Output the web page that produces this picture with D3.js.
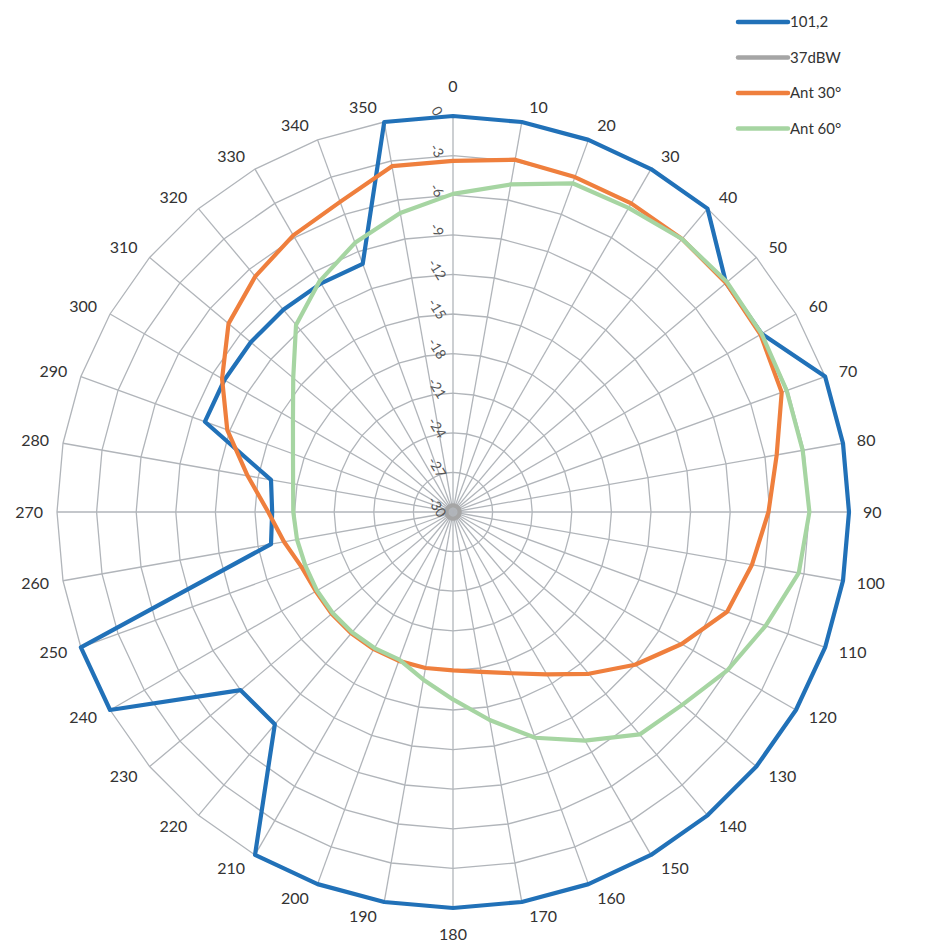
<!DOCTYPE html>
<html>
<head>
<meta charset="utf-8">
<script src="https://cdn.jsdelivr.net/npm/d3@7"></script>
<style>
    body { margin: 0; background: #fff; }
    .grid { fill: none; stroke: #b1b5ba; stroke-width: 1.3px; }
    .series { fill: none; stroke-width: 4.2px; stroke-linejoin: round; }
    .cat { font-family: Lato, "Open Sans", sans-serif; font-size: 16px; fill: #333; }
    .val { font-family: Lato, "Open Sans", sans-serif; font-size: 14px; fill: #555; }
    .legend text { font-family: Lato, "Open Sans", sans-serif; font-size: 15px; fill: #333; }
</style>
</head>
<body>
<div id="chart"></div>
<script>

    // azimuth categories (degrees)
    var azimuths = [0, 10, 20, 30, 40, 50, 60, 70, 80, 90, 100, 110, 120, 130, 140, 150, 160, 170,
                    180, 190, 200, 210, 220, 230, 240, 250, 260, 270, 280, 290, 300, 310, 320, 330, 340, 350];

    // radial axis ticks (dB)
    var ticks = [0, -3, -6, -9, -12, -15, -18, -21, -24, -27, -30];

    var names = ['101,2', '37dBW', 'Ant 30°', 'Ant 60°'];
    var colors = ['#2171b8', '#a5a5a5', '#ef7f3d', '#a6d5a2'];

    var s101 = [0, 0, 0, 0, 0, -3, -3, 0, 0, 0, 0, 0, 0, 0, 0, 0, 0, 0,
                0, 0, 0, 0, -9, -9, 0, 0, -16, -16.3, -16, -10, -10, -10, -10, -10, -10, 0];

    var s37 = [-29.5, -29.5, -29.5, -29.5, -29.5, -29.5, -29.5, -29.5, -29.5, -29.5, -29.5, -29.5,
               -29.5, -29.5, -29.5, -29.5, -29.5, -29.5, -29.5, -29.5, -29.5, -29.5, -29.5, -29.5,
               -29.5, -29.5, -29.5, -29.5, -29.5, -29.5, -29.5, -29.5, -29.5, -29.5, -29.5, -29.5];

    var ant30 = [-3.4, -2.9, -3, -3, -3, -3, -3.1, -3.5, -5.1, -6.1, -7, -7.9, -10, -12, -14, -15.8, -17, -17.7,
                 -18, -18, -18, -18, -18, -18, -18, -17.8, -17, -16, -14.2, -11.8, -9.8, -7.8, -6.7, -5.8, -5, -3.4];

    var ant60 = [-5.9, -4.8, -3.5, -3.4, -3, -2.9, -3, -3.1, -3.1, -3, -3.4, -4.8, -6, -7.3, -8, -10, -11.8, -14,
                 -15.8, -17.1, -18.1, -18.1, -18.1, -18.1, -18.1, -18.1, -18, -17.9, -17.7, -17.1, -16, -14.2, -11.5, -9.8, -8.3, -7];

    var seriesData = [s101, s37, ant30, ant60];

    var width = 943, height = 945;
    var cx = 453, cy = 512, R = 396;

    var rScale = d3.scaleLinear().domain([-30, 0]).range([0, R]);
    var aScale = d3.scaleLinear().domain([0, 360]).range([0, 2 * Math.PI]);

    var svg = d3.select('#chart').append('svg')
        .attr('width', width)
        .attr('height', height);

    var g = svg.append('g')
        .attr('transform', 'translate(' + cx + ',' + cy + ')');

    // rings (36-gons like Excel radar)
    var ring = d3.lineRadial()
        .angle(function(d) { return aScale(d); })
        .curve(d3.curveLinearClosed);

    ticks.filter(function(t) { return t > -30; }).forEach(function(t) {
        g.append('path')
            .attr('class', 'grid')
            .attr('d', ring.radius(rScale(t))(azimuths));
    });

    // spokes
    g.selectAll('line.spoke')
        .data(azimuths)
        .enter()
        .append('line')
        .attr('class', 'grid')
        .attr('x1', 0).attr('y1', 0)
        .attr('x2', function(d) { return rScale(0) * Math.sin(aScale(d)); })
        .attr('y2', function(d) { return -rScale(0) * Math.cos(aScale(d)); });

    // category labels
    g.selectAll('text.cat')
        .data(azimuths)
        .enter()
        .append('text')
        .attr('class', 'cat')
        .each(function(d) {
            var a = aScale(d), s = Math.sin(a), c = Math.cos(a);
            var x = rScale(0) * s, y = -rScale(0) * c;
            var el = d3.select(this);
            if (Math.abs(s) < 0.01) {
                el.attr('x', x).attr('y', y - c * (c > 0 ? 30 : 26)).attr('text-anchor', 'middle');
            } else {
                el.attr('x', x + Math.sign(s) * (6 + 8 * Math.abs(s)))
                  .attr('y', y - c * 15)
                  .attr('text-anchor', s > 0 ? 'start' : 'end');
            }
        })
        .attr('dy', '0.35em')
        .text(function(d) { return d; });

    // series
    var pen = d3.lineRadial()
        .angle(function(d, i) { return aScale(azimuths[i]); })
        .radius(function(d) { return rScale(d); })
        .curve(d3.curveLinearClosed);

    seriesData.forEach(function(data, k) {
        g.append('path')
            .datum(data)
            .attr('class', 'series')
            .attr('stroke', colors[k])
            .attr('d', pen);
    });

    // value axis labels, rotated along the 0 spoke
    g.selectAll('text.val')
        .data(ticks)
        .enter()
        .append('text')
        .attr('class', 'val')
        .attr('text-anchor', 'middle')
        .attr('dy', '0.35em')
        .attr('transform', function(d) {
            return 'translate(-16,' + (-rScale(d) - 5) + ') rotate(58)';
        })
        .text(function(d) { return d === 0 ? '0' : '-' + Math.abs(d); });

    // legend
    var legend = svg.append('g').attr('class', 'legend')
        .attr('transform', 'translate(738, 22)');

    var item = legend.selectAll('g')
        .data(names)
        .enter()
        .append('g')
        .attr('transform', function(d, i) { return 'translate(0,' + i * 35.5 + ')'; });

    item.append('line')
        .attr('x1', 0).attr('x2', 50)
        .attr('stroke', function(d, i) { return colors[i]; })
        .attr('stroke-width', 4.5)
        .attr('stroke-linecap', 'round');

    item.append('text')
        .attr('x', 52)
        .attr('dy', '0.35em')
        .text(function(d) { return d; });

</script>
</body>
</html>
